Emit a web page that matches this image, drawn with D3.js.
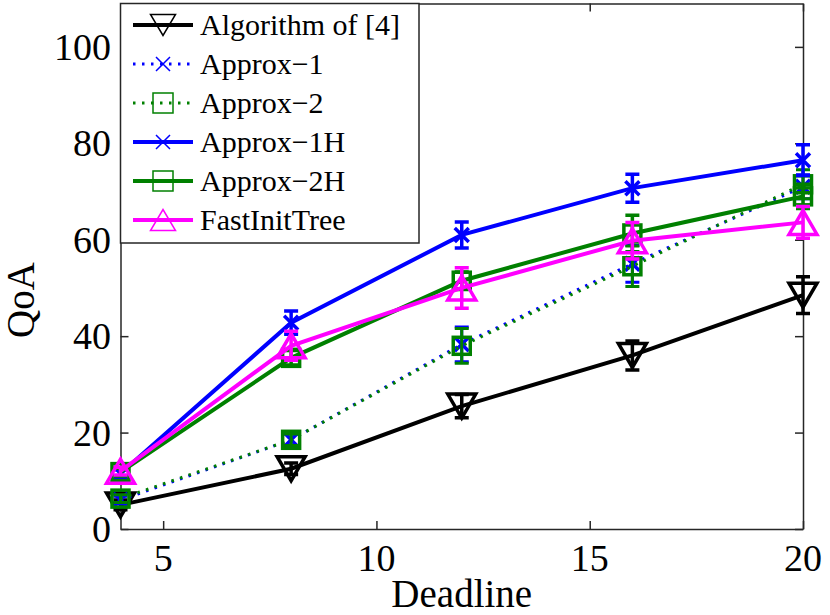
<!DOCTYPE html><html><meta charset="UTF-8">
<title>QoA vs Deadline</title>
<style>
body { margin: 0; background: #fff; overflow: hidden; }
text { font-family: "Liberation Serif", "Times New Roman", serif; fill: #000; }
.ticklab { font-size: 38px; }
.axlab { font-size: 39px; }
.legtext { font-size: 30px; }
</style>
<script src="https://cdn.jsdelivr.net/npm/d3@7"></script>
<svg width="830" height="615"></svg>
<script>

// data
var deadlines = [4, 8, 12, 16, 20];
var xTicks = [5, 10, 15, 20];
var yTicks = [0, 20, 40, 60, 80, 100];

var algo = [5.0, 12.5, 25.5, 36.0, 48.5];
var algoErr = [1.0, 1.2, 2.4, 3.0, 3.8];
var approx1 = [6.0, 18.5, 38.3, 55.0, 71.0];
var approx1Err = [0.8, 1.2, 3.6, 3.8, 2.5];
var approx2 = [6.3, 18.5, 38.0, 54.5, 71.5];
var approx2Err = [0.8, 1.2, 3.6, 4.2, 3.0];
var approx1H = [11.5, 42.8, 61.0, 70.7, 76.5];
var approx1HErr = [0.8, 2.4, 2.7, 2.9, 3.2];
var approx2H = [11.8, 35.5, 51.5, 61.3, 69.0];
var approx2HErr = [0.8, 1.5, 1.8, 3.8, 2.5];
var fastInit = [12.0, 38.0, 50.0, 59.8, 63.6];
var fastInitErr = [0.8, 3.0, 4.2, 3.8, 3.3];

var names = ["Algorithm of [4]", "Approx\u22121", "Approx\u22122", "Approx\u22121H", "Approx\u22122H", "FastInitTree"];

var series = [
  {name: names[0], vals: algo, err: algoErr, color: "#000000", dash: null, width: 4, marker: "tridown"},
  {name: names[1], vals: approx1, err: approx1Err, color: "#0000ff", dash: "2.5,6.5", width: 3, marker: "x"},
  {name: names[2], vals: approx2, err: approx2Err, color: "#008000", dash: "2.5,6.5", width: 3, marker: "square"},
  {name: names[3], vals: approx1H, err: approx1HErr, color: "#0000ff", dash: null, width: 4, marker: "x"},
  {name: names[4], vals: approx2H, err: approx2HErr, color: "#008000", dash: null, width: 4, marker: "square"},
  {name: names[5], vals: fastInit, err: fastInitErr, color: "#ff00ff", dash: null, width: 4, marker: "triup"}
];

var svg = d3.select("svg"),
    pLeft = 120.5, pRight = 803, pTop = 3.5, pBottom = 529;

var x = d3.scaleLinear().domain([4, 20]).range([pLeft, pRight]);
var y = d3.scaleLinear().domain([0, 109]).range([pBottom, pTop]);

// axes box with inward ticks on all sides
var axisColor = "#262626";
svg.append("g").attr("transform", "translate(0," + pBottom + ")")
  .call(d3.axisBottom(x).tickValues(xTicks).tickSizeInner(-8).tickSizeOuter(0).tickFormat(""));
svg.append("g").attr("transform", "translate(0," + pTop + ")")
  .call(d3.axisTop(x).tickValues(xTicks).tickSizeInner(-8).tickSizeOuter(0).tickFormat(""));
svg.append("g").attr("transform", "translate(" + pLeft + ",0)")
  .call(d3.axisLeft(y).tickValues(yTicks).tickSizeInner(-8).tickSizeOuter(0).tickFormat(""));
svg.append("g").attr("transform", "translate(" + pRight + ",0)")
  .call(d3.axisRight(y).tickValues(yTicks).tickSizeInner(-8).tickSizeOuter(0).tickFormat(""));
svg.selectAll(".domain, .tick line").attr("stroke", axisColor).attr("stroke-width", 1.5);

svg.selectAll(".xlab").data(xTicks).enter().append("text")
  .attr("class", "ticklab").attr("x", d => x(d)).attr("y", 571)
  .attr("text-anchor", "middle").text(d => d);
svg.selectAll(".ylab").data(yTicks).enter().append("text")
  .attr("class", "ticklab").attr("x", 111).attr("y", d => y(d) + 13)
  .attr("text-anchor", "end").text(d => d);

svg.append("text").attr("class", "axlab").attr("x", (pLeft + pRight) / 2).attr("y", 607)
  .attr("text-anchor", "middle").text("Deadline");
svg.append("text").attr("class", "axlab")
  .attr("transform", "translate(34,300) rotate(-90)")
  .attr("text-anchor", "middle").text("QoA");

// w, h = half width / half height of the marker
function drawMarker(g, type, cx, cy, color, w, h, sw) {
  if (type == "tridown" || type == "triup") {
    var s = type == "triup" ? -1 : 1;
    g.append("path")
      .attr("d", "M" + (cx - w) + "," + (cy - s * h) + "L" + (cx + w) + "," + (cy - s * h) + "L" + cx + "," + (cy + s * h) + "Z")
      .attr("fill", "none").attr("stroke", color).attr("stroke-width", sw).attr("stroke-linejoin", "miter");
  } else if (type == "square") {
    g.append("rect").attr("x", cx - w).attr("y", cy - h)
      .attr("width", 2 * w).attr("height", 2 * h)
      .attr("fill", "none").attr("stroke", color).attr("stroke-width", sw);
  } else {
    g.append("path")
      .attr("d", "M" + (cx - w) + "," + (cy - h) + "L" + (cx + w) + "," + (cy + h) + "M" + (cx - w) + "," + (cy + h) + "L" + (cx + w) + "," + (cy - h))
      .attr("stroke", color).attr("stroke-width", sw);
  }
}

var sizes = {tridown: [14, 12], triup: [14, 12], square: [8.5, 8.5], x: [7, 7]};
var legSizes = {tridown: [12.5, 10.5], triup: [12.5, 10.5], square: [10, 10], x: [7, 7]};

var line = d3.line().x((d, i) => x(deadlines[i])).y(d => y(d));

series.forEach(function(s) {
  var g = svg.append("g");
  // error bars
  s.vals.forEach(function(v, i) {
    var cx = x(deadlines[i]), y1 = y(v + s.err[i]), y2 = y(v - s.err[i]);
    g.append("path")
      .attr("d", "M" + cx + "," + y1 + "L" + cx + "," + y2 +
                 "M" + (cx - 7) + "," + y1 + "L" + (cx + 7) + "," + y1 +
                 "M" + (cx - 7) + "," + y2 + "L" + (cx + 7) + "," + y2)
      .attr("stroke", s.color).attr("stroke-width", s.dash ? 3 : 3.5).attr("fill", "none");
  });
  g.append("path").datum(s.vals).attr("d", line)
    .attr("fill", "none").attr("stroke", s.color).attr("stroke-width", s.width)
    .attr("stroke-dasharray", s.dash);
  s.vals.forEach(function(v, i) {
    var sz = sizes[s.marker];
    drawMarker(g, s.marker, x(deadlines[i]), y(v), s.color, sz[0], sz[1], 3.5);
  });
});

// legend
var leg = svg.append("g");
leg.append("rect").attr("x", pLeft).attr("y", pTop).attr("width", 298.5).attr("height", 239.5)
  .attr("fill", "#fff").attr("stroke", axisColor).attr("stroke-width", 1.5);
series.forEach(function(s, i) {
  var ly = 25 + i * 39;
  leg.append("line").attr("x1", 133).attr("x2", 193).attr("y1", ly).attr("y2", ly)
    .attr("stroke", s.color).attr("stroke-width", s.width)
    .attr("stroke-dasharray", s.dash);
  var sz = legSizes[s.marker];
  drawMarker(leg, s.marker, 163, ly, s.color, sz[0], sz[1], 1.5);
  leg.append("text").attr("class", "legtext").attr("x", 200).attr("y", ly + 10).text(s.name);
});

</script>
</html>
